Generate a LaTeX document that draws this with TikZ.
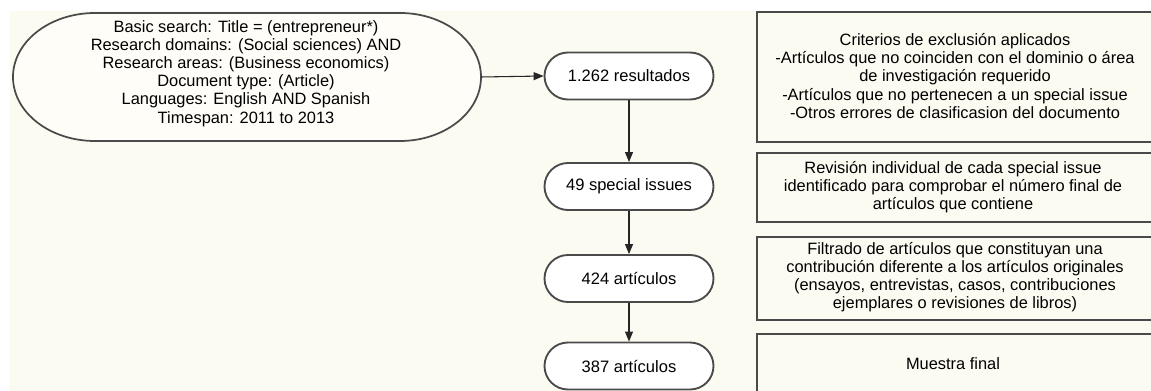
\documentclass[tikz,border=0pt]{standalone}
\usepackage{fontspec}
\setmainfont{Liberation Sans}
\usetikzlibrary{shapes.misc,arrows.meta}
\definecolor{cream}{HTML}{FCFBF1}
\definecolor{edge}{HTML}{4A4A4A}
\begin{document}
\begin{tikzpicture}[x=0.75pt,y=-0.75pt,
  txt/.style={font=\fontsize{12.3pt}{13.6pt}\selectfont,align=center,inner sep=0pt},
  pill/.style={rounded rectangle,draw=edge,line width=1.4pt,fill=white,minimum width=126.75pt,minimum height=35.25pt,inner sep=0pt,font=\fontsize{12.4pt}{14pt}\selectfont},
  boxx/.style={draw=edge,line width=1.6pt,fill=cream},
  arr/.style={draw=black!85,line width=0.8pt,-{Triangle[length=7.5pt,width=6pt]}}]
\useasboundingbox (0,0) rectangle (1151,391);
\fill[cream] (10,11) rectangle (1151,391);
% left stadium
\draw[edge,line width=1.3pt,fill=white!50!cream] (95,13) -- (400,13)
  .. controls (444.7,13) and (481,41.7) .. (481,77)
  .. controls (481,112.3) and (444.7,141) .. (400,141)
  -- (95,141)
  .. controls (49.7,141) and (13,112.3) .. (13,77)
  .. controls (13,41.7) and (49.7,13) .. (95,13) -- cycle;
\coordinate (srcE) at (481,77);
\node[txt] (src) at (246,73.5) {Basic search: Title = (entrepreneur*)\\Research domains: (Social sciences) AND\\Research areas: (Business economics)\\Document type: (Article)\\Languages: English AND Spanish\\Timespan: 2011 to 2013};
% right boxes
\path[boxx] (757,12) rectangle (1170,142);
\path[boxx] (757,153) rectangle (1170,222);
\path[boxx] (757,237) rectangle (1170,320);
\path[boxx] (757,334) rectangle (1170,410);
\node[txt] (b1) at (955,76) {Criterios de exclusión aplicados\\-Artículos que no coinciden con el dominio o área\\de investigación requerido\\-Artículos que no pertenecen a un special issue\\-Otros errores de clasificasion del documento};
\node[txt] (b2) at (953,187) {Revisión individual de cada special issue\\identificado para comprobar el número final de\\artículos que contiene};
\node[txt] (b3) at (955,277) {Filtrado de artículos que constituyan una\\contribución diferente a los artículos originales\\(ensayos, entrevistas, casos, contribuciones\\ejemplares o revisiones de libros)};
\node[txt] (b4) at (953,364) {Muestra final};
% pills
\node[pill] (r1) at (629,76) {1.262 resultados};
\node[pill] (r2) at (629,186.5) {49 special issues};
\node[pill] (r3) at (629,278.5) {424 artículos};
\node[pill] (r4) at (629,366) {387 artículos};
\draw[arr] (srcE) -- (r1.west);
\draw[arr] (r1.south) -- (r2.north);
\draw[arr] (r2.south) -- (r3.north);
\draw[arr] (r3.south) -- (r4.north);
\end{tikzpicture}
\end{document}
